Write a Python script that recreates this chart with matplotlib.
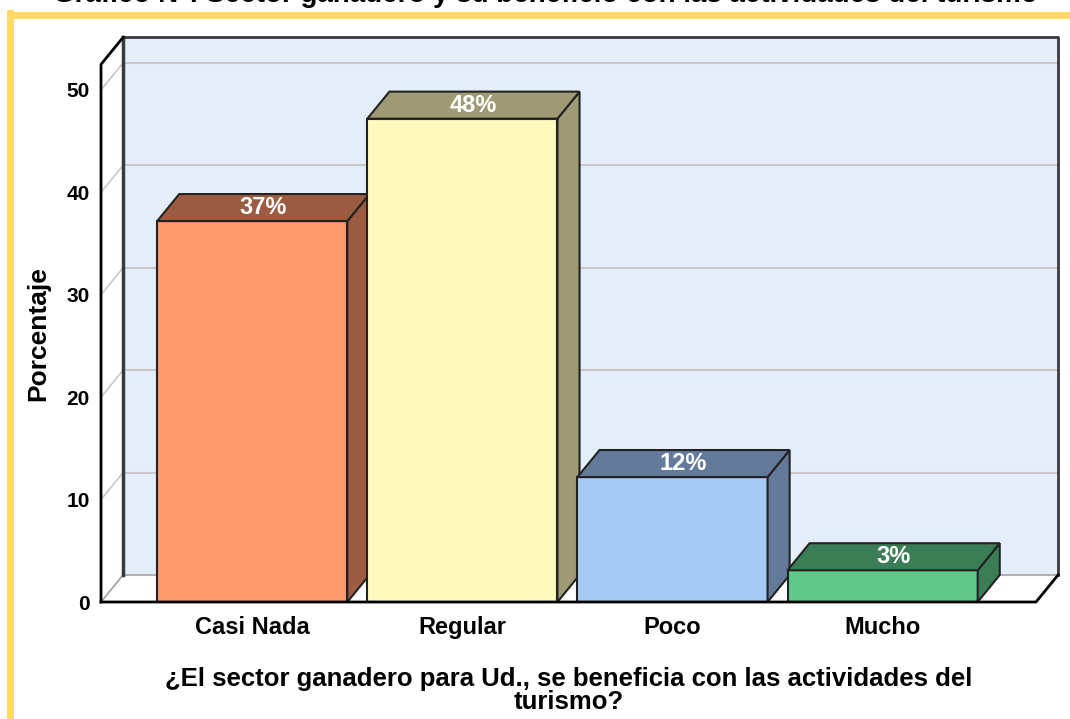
import numpy as np
import matplotlib.pyplot as plt
from matplotlib.patches import Polygon

plt.rcParams['font.family'] = ['Liberation Sans', 'DejaVu Sans']
plt.rcParams['font.weight'] = 'bold'

# Data
categories = ['Casi Nada', 'Regular', 'Poco', 'Mucho']
values = [37.2, 47.2, 12.2, 3.1]
value_labels = ['37%', '48%', '12%', '3%']
yticks = [0, 10, 20, 30, 40, 50]

front_colors = ['#FF9A6E', '#FFF9BE', '#A6C8F5', '#5EC98A']
shade_colors = ['#9C5C42', '#9E9A73', '#637A9B', '#3B7D55']

xlabel = '¿El sector ganadero para Ud., se beneficia con las actividades del\nturismo?'
ylabel = 'Porcentaje'
title = 'Gráfico N°: Sector ganadero y su beneficio con las actividades del turismo'

# 3D look: depth offset in data units
DX, DY = 0.105, 2.64
bar_w = 0.905

fig = plt.figure(figsize=(10.7, 7.19), dpi=100)
ax = fig.add_axes([101 / 1070, (719 - 602) / 719, 935 / 1070, (602 - 64.4) / 719])
xmin, xmax = -0.72, 3.73
ymin, ymax = 0, 52.5
ax.set_xlim(xmin, xmax)
ax.set_ylim(ymin, ymax)
for s in ax.spines.values():
    s.set_visible(False)
ax.patch.set_visible(False)

# back wall
ax.add_patch(Polygon([(xmin + DX, DY), (xmax + DX, DY), (xmax + DX, ymax + DY), (xmin + DX, ymax + DY)],
                     closed=True, facecolor='#E3EEFA', edgecolor='none', clip_on=False, zorder=1))
# left side wall
ax.add_patch(Polygon([(xmin, 0), (xmin, ymax), (xmin + DX, ymax + DY), (xmin + DX, DY)],
                     closed=True, facecolor='white', edgecolor='none', clip_on=False, zorder=1))
# floor
ax.add_patch(Polygon([(xmin, 0), (xmax, 0), (xmax + DX, DY), (xmin + DX, DY)],
                     closed=True, facecolor='white', edgecolor='none', clip_on=False, zorder=1))

# gridlines on back wall and side wall
for t in yticks[1:]:
    ax.plot([xmin + DX, xmax + DX], [t + DY, t + DY], color='#C8C8C8', lw=1.5, clip_on=False, zorder=2)
    ax.plot([xmin, xmin + DX], [t, t + DY], color='#C8C8C8', lw=1.2, clip_on=False, zorder=2)
ax.plot([xmin + DX, xmax + DX], [DY, DY], color='#B0B0B0', lw=1.5, clip_on=False, zorder=2)
ax.plot([xmin, xmin + DX], [0, DY], color='#A0A0A0', lw=1.2, clip_on=False, zorder=2)

# frame edges
ax.plot([xmin + DX, xmin + DX], [DY, ymax + DY], color='#3A3A3A', lw=2.5, clip_on=False, zorder=2)
ax.plot([xmin + DX, xmax + DX, xmax + DX], [ymax + DY, ymax + DY, DY], color='#3A3A3A', lw=2,
        clip_on=False, zorder=2)
ax.plot([xmin, xmin, xmin + DX], [0, ymax, ymax + DY], color='black', lw=2, clip_on=False, zorder=5)
ax.plot([xmin, xmax, xmax + DX], [0, 0, DY], color='black', lw=2, clip_on=False, zorder=5)

# bars
pos = np.arange(len(categories))
for i, (x, h) in enumerate(zip(pos, values)):
    x0, x1 = x - bar_w / 2, x + bar_w / 2
    ax.bar(x, h, width=bar_w, color=front_colors[i], edgecolor='#222222', linewidth=1.5, zorder=3)
    ax.add_patch(Polygon([(x1, 0), (x1 + DX, DY), (x1 + DX, h + DY), (x1, h)], closed=True,
                         facecolor=shade_colors[i], edgecolor='#222222', lw=1.5, zorder=3, clip_on=False))
    ax.add_patch(Polygon([(x0, h), (x1, h), (x1 + DX, h + DY), (x0 + DX, h + DY)], closed=True,
                         facecolor=shade_colors[i], edgecolor='#222222', lw=1.5, zorder=3, clip_on=False))
    ax.text(x + DX / 2, h + DY / 2, value_labels[i], ha='center', va='center', color='white',
            fontsize=17, fontweight='bold', zorder=4)

ax.set_xticks(pos)
ax.set_xticklabels(categories, fontsize=17, fontweight='bold')
ax.set_yticks(yticks)
ax.set_yticklabels([str(t) for t in yticks], fontsize=15, fontweight='bold')
ax.tick_params(axis='x', length=0, pad=10)
ax.tick_params(axis='y', length=0, pad=8)
ax.set_xlabel(xlabel, fontsize=18.5, fontweight='bold', labelpad=20, linespacing=0.95)
ax.set_ylabel(ylabel, fontsize=19, fontweight='bold', labelpad=12)

# yellow frame and cut-off title
fig.add_artist(plt.Line2D([10 / 1070, 10 / 1070], [0, 1 - 13 / 719], transform=fig.transFigure,
                          color='#FFD966', lw=5))
fig.add_artist(plt.Line2D([10 / 1070, 1], [1 - 15 / 719, 1 - 15 / 719], transform=fig.transFigure,
                          color='#FFD966', lw=5))
fig.text(0.51, 1 + 5 / 719, title, ha='center', va='center', fontsize=20, fontweight='bold')

plt.savefig('out.png', dpi=100)
